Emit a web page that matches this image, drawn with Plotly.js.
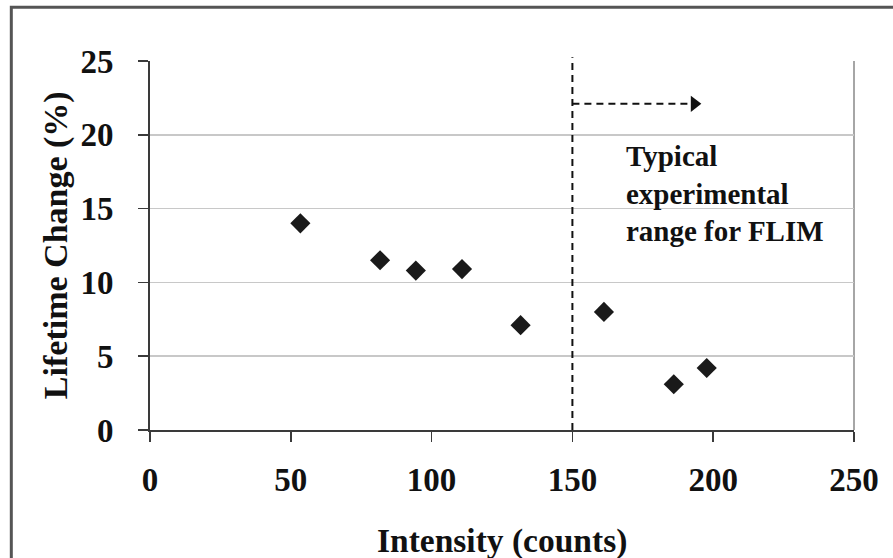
<!DOCTYPE html>
<html>
<head>
<meta charset="utf-8">
<script src="https://cdn.plot.ly/plotly-3.0.1.min.js"></script>
<style>
  html, body { margin: 0; padding: 0; background: #ffffff; }
  #chart { width: 893px; height: 558px; }
</style>
</head>
<body>
<div id="chart"></div>
<script>
// Data
const intensity = [53.4, 81.7, 94.4, 110.8, 131.6, 161.2, 186.0, 197.7];
const lifetimeChange = [14.0, 11.5, 10.8, 10.9, 7.1, 8.0, 3.1, 4.2];
const xTicks = [0, 50, 100, 150, 200, 250];
const yTicks = [0, 5, 10, 15, 20, 25];
const thresholdIntensity = 150;
const arrowLevel = 22.1;
const arrowEnd = 193.3;
const noteText = "Typical<br>experimental<br>range for FLIM";
const xTitle = "Intensity (counts)";
const yTitle = "Lifetime Change (%)";

const serif = "Liberation Serif, Times New Roman, serif";

const traces = [
  {
    x: intensity,
    y: lifetimeChange,
    type: "scatter",
    mode: "markers",
    marker: { symbol: "diamond", size: 15.5, color: "#1a1a1a", line: { width: 0 } },
    hoverinfo: "x+y",
    showlegend: false
  },
  {
    x: [arrowEnd],
    y: [arrowLevel],
    type: "scatter",
    mode: "markers",
    marker: { symbol: "triangle-right", size: 14, color: "#111111" },
    hoverinfo: "skip",
    showlegend: false
  }
];

const layout = {
  width: 893,
  height: 558,
  margin: { l: 150, r: 39, t: 61, b: 128 },
  paper_bgcolor: "#ffffff",
  plot_bgcolor: "#ffffff",
  showlegend: false,
  font: { family: serif, color: "#111111" },
  xaxis: {
    range: [0, 250],
    tickvals: xTicks,
    ticktext: xTicks.map(String),
    showgrid: false,
    zeroline: false,
    showline: true,
    linecolor: "#3a3a3a",
    linewidth: 2,
    ticks: "outside",
    ticklen: 10,
    tickwidth: 1.5,
    tickcolor: "#3a3a3a",
    ticklabelstandoff: 9,
    tickfont: { family: serif, size: 33, weight: "bold", color: "#111111" },
    automargin: false,
    fixedrange: true
  },
  yaxis: {
    range: [0, 25],
    tickvals: yTicks,
    ticktext: yTicks.map(String),
    showgrid: true,
    gridcolor: "#c8c8c8",
    gridwidth: 1.5,
    zeroline: false,
    showline: true,
    linecolor: "#3a3a3a",
    linewidth: 2,
    ticks: "outside",
    ticklen: 10,
    tickwidth: 1.5,
    tickcolor: "#3a3a3a",
    ticklabelstandoff: 18,
    tickfont: { family: serif, size: 33, weight: "bold", color: "#111111" },
    automargin: false,
    fixedrange: true
  },
  shapes: [
    // outer chart frame
    { type: "rect", xref: "paper", yref: "paper", x0: -0.197, x1: 1.2, y0: -0.5, y1: 1.146,
      line: { color: "#555555", width: 3 }, fillcolor: "rgba(0,0,0,0)", layer: "below" },
    // plot-area border (right side)
    { type: "line", xref: "paper", yref: "paper", x0: 1, x1: 1, y0: 0, y1: 1,
      line: { color: "#888888", width: 1.5 }, layer: "below" },
    // threshold dashed vertical line
    { type: "line", xref: "x", yref: "paper", x0: thresholdIntensity, x1: thresholdIntensity, y0: 0, y1: 1.01,
      line: { color: "#111111", width: 2, dash: "7px,5px" }, layer: "above" },
    // dashed arrow shaft
    { type: "line", xref: "x", yref: "y", x0: thresholdIntensity, x1: arrowEnd - 2, y0: arrowLevel, y1: arrowLevel,
      line: { color: "#111111", width: 2, dash: "7px,5px" }, layer: "above" }
  ],
  annotations: [
    { x: 168.3, y: 16.05, xref: "x", yref: "y", text: noteText, showarrow: false,
      xanchor: "left", yanchor: "middle", align: "left",
      font: { family: serif, size: 29, weight: "bold", color: "#111111" } },
    // x-axis title
    { x: 0.5, y: -0.301, xref: "paper", yref: "paper", text: xTitle, showarrow: false,
      xanchor: "center", yanchor: "middle",
      font: { family: serif, size: 33.5, weight: "bold", color: "#111111" } },
    // y-axis title
    { x: -0.1335, y: 0.501, xref: "paper", yref: "paper", text: yTitle, showarrow: false,
      textangle: -90, xanchor: "center", yanchor: "middle",
      font: { family: serif, size: 34, weight: "bold", color: "#111111" } }
  ]
};

Plotly.newPlot("chart", traces, layout, { displayModeBar: false, staticPlot: true });
</script>
</body>
</html>
